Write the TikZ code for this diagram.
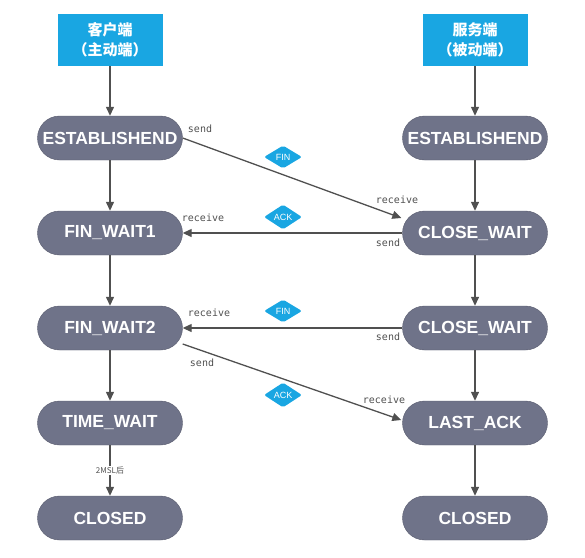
\documentclass[tikz,border=0pt]{standalone}
\usepackage{fontspec}
\setmainfont{Liberation Sans}
\newfontfamily\cjkfont{Noto Sans CJK SC}
\newfontfamily\lblfont{DejaVu Sans Mono}
\usepackage{tikz}
\usetikzlibrary{shapes.geometric, arrows.meta}

\definecolor{stategray}{HTML}{6F7389}
\definecolor{headblue}{HTML}{19A6E2}
\definecolor{linegray}{HTML}{505050}

\tikzset{
  state/.style={draw=stategray!80!black, fill=stategray, text=white, rounded corners=22pt,
    minimum width=145pt, minimum height=44pt, font=\fontsize{17.5}{20}\selectfont\bfseries},
  header/.style={fill=headblue, text=white, minimum width=105pt, minimum height=52pt,
    align=center, font=\cjkfont\fontsize{15}{20}\selectfont\bfseries},
  flag/.style={diamond, fill=headblue, text=white, inner sep=0pt, rounded corners=2pt,
    minimum width=38pt, minimum height=23pt, font=\fontsize{9}{9}\selectfont},
  lbl/.style={font=\lblfont\fontsize{10}{10}\selectfont, text=linegray},
  arr/.style={draw=linegray, line width=1.3pt, -{Triangle[length=9pt,width=8pt]}}
}

\begin{document}
\begin{tikzpicture}[x=1pt, y=-1pt, node distance={95pt}]
        \useasboundingbox (0,0) rectangle (585,557);

        % client side
        \node[header] (h1) at (110,40) {客户端\\（主动端）};
        \node[state] (c1) at (110,138) {ESTABLISHEND};
        \node[state] (c2) [below of=c1] {FIN\_WAIT1};
        \node[state] (c3) [below of=c2] {FIN\_WAIT2};
        \node[state] (c4) [below of=c3] {TIME\_WAIT};
        \node[state] (c5) [below of=c4] {CLOSED};

        % server side
        \node[header] (h2) at (475,40) {服务端\\（被动端）};
        \node[state] (s1) at (475,138) {ESTABLISHEND};
        \node[state] (s2) [below of=s1] {CLOSE\_WAIT};
        \node[state] (s3) [below of=s2] {CLOSE\_WAIT};
        \node[state] (s4) [below of=s3] {LAST\_ACK};
        \node[state] (s5) [below of=s4] {CLOSED};

        \draw[arr] (h1) to (c1);
        \draw[arr] (c1) to (c2);
        \draw[arr] (c2) to (c3);
        \draw[arr] (c3) to (c4);
        \draw[arr] (c4) to node[fill=white, inner sep=1pt, font=\cjkfont\fontsize{8}{8}\selectfont, text=linegray] (t1) {2MSL后} (c5);

        \draw[arr] (h2) to (s1);
        \draw[arr] (s1) to (s2);
        \draw[arr] (s2) to (s3);
        \draw[arr] (s3) to (s4);
        \draw[arr] (s4) to (s5);

        % messages
        \draw[arr] (c1.east) to ([xshift=-1pt, yshift=15pt]s2.west);
        \draw[arr] (s2.west) to (c2.east);
        \draw[arr] (s3.west) to (c3.east);
        \draw[arr] ([yshift=-16pt]c3.east) to ([xshift=-1pt, yshift=3pt]s4.west);

        \node[flag] (f1) at (283,157) {FIN};
        \node[flag] (f2) at (283,217) {ACK};
        \node[flag] (f3) at (283,311) {FIN};
        \node[flag] (f4) at (283,395) {ACK};

        \node[lbl] (l1) at (200,129) {send};
        \node[lbl] (l2) at (397,200) {receive};
        \node[lbl] (l3) at (203,218) {receive};
        \node[lbl] (l4) at (388,243) {send};
        \node[lbl] (l5) at (209,313) {receive};
        \node[lbl] (l6) at (388,337) {send};
        \node[lbl] (l7) at (202,363) {send};
        \node[lbl] (l8) at (384,400) {receive};
    \end{tikzpicture}
\end{document}
